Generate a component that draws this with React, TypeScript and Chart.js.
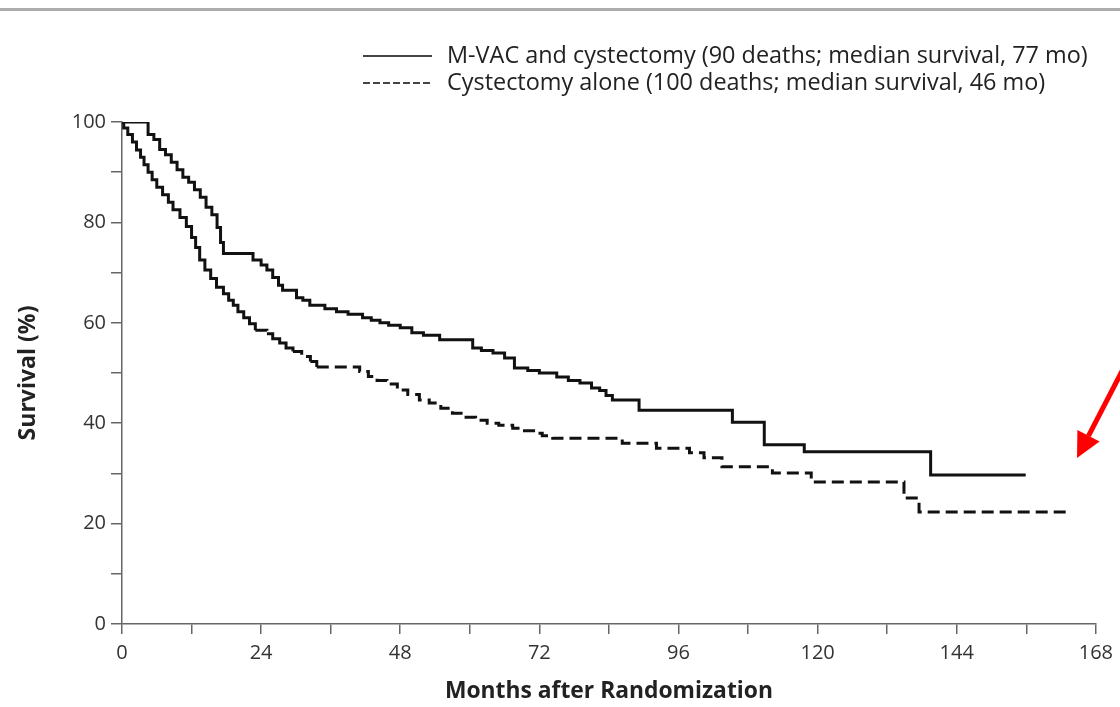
import React, { useEffect, useRef } from 'react';
import { Chart, registerables } from 'chart.js';

Chart.register(...registerables);

// Kaplan-Meier step points: [month, survival %] (value after the step at that month)
const mvacSteps: [number, number][] = [
  [0, 100], [4.5, 97.5], [5.5, 96.5], [6.5, 94.5], [7.5, 93.5], [8.5, 92], [9.5, 90.5],
  [10.5, 89], [11.5, 88], [12.5, 86.5], [13.5, 85], [14.5, 83], [15.5, 81.5], [16.4, 79],
  [17, 76], [17.5, 73.8], [22.6, 72.5], [24, 71.5], [25, 70.5], [26, 69], [27, 67.5],
  [27.7, 66.5], [30.1, 65], [31.2, 64.5], [32.4, 63.5], [35, 62.8], [37, 62.2], [39, 61.7],
  [41.5, 61], [43, 60.5], [44.5, 60], [46, 59.5], [48, 59], [50, 58], [52, 57.5],
  [54.8, 56.6], [60.5, 55], [62, 54.5], [64, 54], [66, 53], [67.7, 51], [70, 50.5],
  [72, 50], [75, 49.2], [77, 48.5], [79, 48], [81, 47], [82.4, 46.5], [83.5, 45.5],
  [84.6, 44.6], [89.2, 42.6], [105.3, 40.2], [110.8, 35.7], [117.7, 34.3], [139.5, 29.7],
  [155.9, 29.7],
];

const cystSteps: [number, number][] = [
  [0, 100], [0.3, 98.8], [1, 97.5], [1.8, 96], [2.5, 94.4], [3.2, 93], [3.8, 91.5],
  [4.5, 90], [5.2, 88.5], [6, 87], [7, 85.5], [8, 84], [8.8, 82.5], [10, 81], [11.1, 79.2],
  [12, 77], [12.7, 75], [13.4, 72.5], [14.3, 70.5], [15.3, 68.8], [16.3, 67.1], [17.5, 65.8],
  [18.4, 64.5], [19.2, 63.5], [20, 62.2], [21, 61], [22, 59.8], [23, 58.5], [25, 57.8],
  [26, 56.8], [27.2, 56], [28.3, 55], [29.5, 54.3], [31, 53.3], [32.5, 52.3], [33.6, 51.2],
  [41, 50.3], [42.5, 49.3], [44, 48.5], [45.7, 47.8], [47.5, 46.6], [49.3, 45.7],
  [51.3, 44.6], [53, 44], [55, 43], [57, 42], [58.8, 41.2], [61, 40.6], [63, 40],
  [65, 39.6], [67.4, 39], [69, 38.5], [71, 38], [72.5, 37.5], [74.3, 37], [86.3, 36],
  [92.2, 35], [97.9, 34.1], [100.4, 33.1], [103.5, 31.3], [112.2, 30.1], [118.9, 28.3],
  [134.9, 25.1], [137.5, 22.3], [163.3, 22.3],
];

const seriesLabels = [
  'M-VAC and cystectomy (90 deaths; median survival, 77 mo)',
  'Cystectomy alone (100 deaths; median survival, 46 mo)',
];
const xTitle = 'Months after Randomization';
const yTitle = 'Survival (%)';
const xMax = 168;
const xMinorStep = 12;
const xMajorStep = 24;
const yMax = 100;
const yMinorStep = 10;
const yMajorStep = 20;

const FONT = '"Open Sans", "Noto Sans", sans-serif';

export default function App() {
  const ref = useRef<HTMLCanvasElement>(null);

  useEffect(() => {
    document.body.style.margin = '0';
    const canvas = ref.current;
    if (!canvas) return;
    const mctx = document.createElement('canvas').getContext('2d')!;
    const fit = (text: string, weight: string, target: number) => {
      mctx.font = `${weight} 20px ${FONT}`;
      return (20 * target) / mctx.measureText(text).width;
    };
    const legendSize = fit(seriesLabels[0], 'normal', 641);
    const xTitleSize = fit(xTitle, 'bold', 328);
    const yTitleSize = fit(yTitle, 'bold', 135);

    const decor = {
      id: 'decor',
      afterDraw(chart: any) {
        const ctx = chart.ctx as CanvasRenderingContext2D;
        ctx.save();
        // top rule
        ctx.fillStyle = '#adadad';
        ctx.fillRect(0, 8, chart.width, 3);
        // legend
        ctx.strokeStyle = '#444';
        ctx.lineWidth = 2;
        ctx.beginPath();
        ctx.moveTo(363, 56);
        ctx.lineTo(432, 56);
        ctx.stroke();
        ctx.setLineDash([7, 3]);
        ctx.beginPath();
        ctx.moveTo(363, 83);
        ctx.lineTo(432, 83);
        ctx.stroke();
        ctx.setLineDash([]);
        ctx.fillStyle = '#222';
        ctx.font = `normal ${legendSize}px ${FONT}`;
        ctx.textBaseline = 'alphabetic';
        ctx.textAlign = 'left';
        ctx.fillText(seriesLabels[0], 447, 63);
        ctx.fillText(seriesLabels[1], 447, 90);
        // red arrow
        const tipX = 1077, tipY = 458;
        const ux = -0.46, uy = 0.888;
        const headLen = 25, headHalf = 12.5;
        const bx = tipX - ux * headLen, by = tipY - uy * headLen;
        ctx.strokeStyle = '#ff0000';
        ctx.fillStyle = '#ff0000';
        ctx.lineWidth = 5;
        ctx.beginPath();
        ctx.moveTo(tipX - ux * 130, tipY - uy * 130);
        ctx.lineTo(bx, by);
        ctx.stroke();
        const nx = uy, ny = -ux;
        ctx.beginPath();
        ctx.moveTo(tipX, tipY);
        ctx.lineTo(bx + nx * headHalf, by + ny * headHalf);
        ctx.lineTo(bx - nx * headHalf, by - ny * headHalf);
        ctx.closePath();
        ctx.fill();
        ctx.restore();
      },
    };

    const chart = new Chart(canvas, {
      type: 'line',
      data: {
        datasets: [
          {
            label: seriesLabels[0],
            data: mvacSteps.map(([x, y]) => ({ x, y })),
            borderColor: '#111',
            borderWidth: 3,
            pointRadius: 0,
            stepped: true,
            fill: false,
          },
          {
            label: seriesLabels[1],
            data: cystSteps.map(([x, y]) => ({ x, y })),
            borderColor: '#111',
            borderWidth: 3,
            pointRadius: 0,
            stepped: true,
            fill: false,
            segment: {
              borderDash: (c: any) => (c.p1.parsed.x - c.p0.parsed.x >= 1.4 ? [12, 6] : []),
            },
          },
        ],
      },
      options: {
        responsive: false,
        animation: false,
        devicePixelRatio: 1,
        layout: { padding: { top: 122, right: 23, bottom: 0, left: 0 } },
        plugins: { legend: { display: false }, tooltip: { enabled: false } },
        scales: {
          x: {
            type: 'linear',
            min: 0,
            max: xMax,
            afterFit: (s: any) => { s.height = 83; },
            ticks: {
              stepSize: xMinorStep,
              autoSkip: false,
              maxRotation: 0,
              padding: 7,
              color: '#333',
              font: { family: FONT, size: 20 },
              callback: (v: any) => (Number(v) % xMajorStep === 0 ? String(v) : ''),
            },
            grid: { drawOnChartArea: false, drawTicks: true, tickLength: 10, color: '#666', lineWidth: 1.5 },
            border: { display: true, color: '#666', width: 1.5 },
            title: {
              display: true,
              text: xTitle,
              color: '#222',
              font: { family: FONT, size: xTitleSize, weight: 'bold' },
              padding: { top: 0, bottom: 2 },
            },
          },
          y: {
            type: 'linear',
            min: 0,
            max: yMax,
            afterFit: (s: any) => { s.width = 122; },
            ticks: {
              stepSize: yMinorStep,
              autoSkip: false,
              padding: 5,
              color: '#333',
              font: { family: FONT, size: 20 },
              callback: (v: any) => (Number(v) % yMajorStep === 0 ? String(v) : ''),
            },
            grid: { drawOnChartArea: false, drawTicks: true, tickLength: 11, color: '#666', lineWidth: 1.5 },
            border: { display: true, color: '#666', width: 1.5 },
            title: {
              display: true,
              text: yTitle,
              color: '#222',
              font: { family: FONT, size: yTitleSize, weight: 'bold' },
              padding: { top: 15, bottom: 0 },
            },
          },
        },
      },
      plugins: [decor],
    });
    return () => chart.destroy();
  }, []);

  return (
    <div style={{ position: 'absolute', left: 0, top: 0, width: 1120, height: 707 }}>
      <canvas ref={ref} width={1120} height={707} style={{ display: 'block' }} />
    </div>
  );
}
